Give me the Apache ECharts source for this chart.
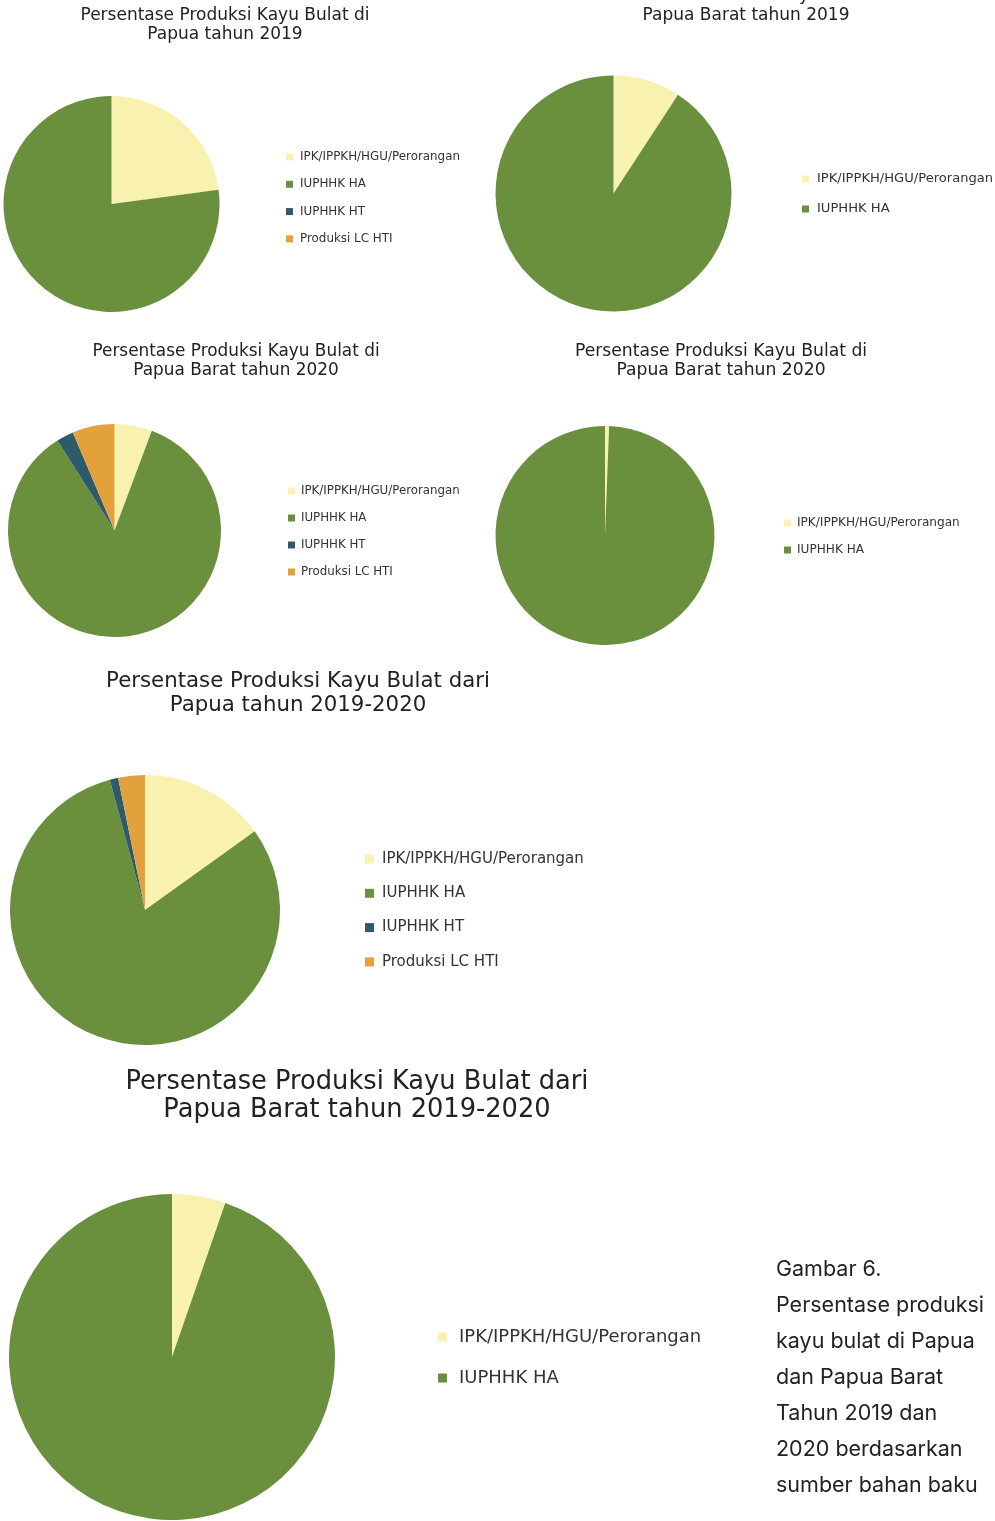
<!DOCTYPE html>
<html>
<head>
<meta charset="utf-8">
<script src="https://cdn.jsdelivr.net/npm/echarts@6/dist/echarts.min.js"></script>
<style>
  html, body { margin: 0; padding: 0; background: #ffffff; }
  #chart { width: 995px; height: 1521px; }
</style>
</head>
<body>
<div id="chart"></div>
<script>
// Sumber bahan baku (kategori) dan warnanya
const categories = ['IPK/IPPKH/HGU/Perorangan', 'IUPHHK HA', 'IUPHHK HT', 'Produksi LC HTI'];
const colors = ['#f9f1b0', '#6a8f3d', '#2e5a69', '#e3a13c'];

// Persentase produksi kayu bulat (%) per wilayah dan tahun
const papua2019 = [22.9, 77.1, 0, 0];
const papuaBarat2019 = [9.2, 90.8];
const papua2020 = [5.7, 85.3, 2.6, 6.4];
const papuaBarat2020 = [0.6, 99.4];
const papua2019_2020 = [15.1, 80.7, 1.0, 3.2];
const papuaBarat2019_2020 = [5.3, 94.7];

const titles = [
  'Persentase Produksi Kayu Bulat di\nPapua tahun 2019',
  'Persentase Produksi Kayu Bulat di\nPapua Barat tahun 2019',
  'Persentase Produksi Kayu Bulat di\nPapua Barat tahun 2020',
  'Persentase Produksi Kayu Bulat di\nPapua Barat tahun 2020',
  'Persentase Produksi Kayu Bulat dari\nPapua tahun 2019-2020',
  'Persentase Produksi Kayu Bulat dari\nPapua Barat tahun 2019-2020'
];
const caption = 'Gambar 6.\nPersentase produksi\nkayu bulat di Papua\ndan Papua Barat\nTahun 2019 dan\n2020 berdasarkan\nsumber bahan baku';

const FONT = '"DejaVu Sans", sans-serif';
const CAPTION_FONT = 'Inter, "Noto Sans", sans-serif';

// Layout of each panel: pie, title and legend placement
const panels = [
  { values: papua2019,           center: [111.5, 204],  r: 108,   title: { x: 225, top: 6,    size: 17, lh: 19 }, legend: { left: 286, top: 150,  size: 11.9, lh: 14, step: 27.3, icon: 7, gap: 2 } },
  { values: papuaBarat2019,      center: [613.5, 193.5], r: 118,  title: { x: 746, top: -14,  size: 17, lh: 19.5 }, legend: { left: 802, top: 172,  size: 13.1, lh: 14, step: 30, icon: 7, gap: 3 } },
  { values: papua2020,           center: [114.5, 530.5], r: 106.5, title: { x: 236, top: 342, size: 16.9, lh: 19 }, legend: { left: 288, top: 484,  size: 11.8, lh: 14, step: 27, icon: 7, gap: 1 } },
  { values: papuaBarat2020,      center: [605, 535.5],   r: 109.5, title: { x: 721, top: 342, size: 17.2, lh: 19 }, legend: { left: 784, top: 516,  size: 12.1, lh: 14, step: 27, icon: 7, gap: 1 } },
  { values: papua2019_2020,      center: [145, 910],     r: 135,  title: { x: 298, top: 669,  size: 21.3, lh: 24 }, legend: { left: 365, top: 850, size: 15, lh: 18, step: 34.3, icon: 9, gap: 3 } },
  { values: papuaBarat2019_2020, center: [172, 1357],    r: 163,  title: { x: 357, top: 1068, size: 25.7, lh: 28.5 }, legend: { left: 438, top: 1326, size: 18, lh: 22, step: 41, icon: 9, gap: 7 } }
];

const option = {
  backgroundColor: '#ffffff',
  animation: false,
  color: colors,
  title: panels.map((p, i) => ({
    text: titles[i],
    left: p.title.x,
    top: p.title.top,
    textAlign: 'center',
    padding: 0,
    textStyle: {
      fontFamily: FONT,
      fontWeight: 'normal',
      fontSize: p.title.size,
      lineHeight: p.title.lh,
      color: '#222222'
    }
  })).concat([{
    text: caption,
    left: 776,
    top: 1252,
    padding: 0,
    textStyle: {
      fontFamily: CAPTION_FONT,
      fontWeight: 'normal',
      fontSize: 21.5,
      lineHeight: 36,
      color: '#222222'
    }
  }]),
  legend: panels.map(p => ({
    orient: 'vertical',
    left: p.legend.left,
    top: p.legend.top,
    padding: 0,
    itemWidth: p.legend.icon,
    itemHeight: p.legend.icon,
    itemGap: p.legend.step - p.legend.lh,
    icon: 'rect',
    selectedMode: false,
    data: categories.slice(0, p.values.length),
    textStyle: {
      fontFamily: FONT,
      fontSize: p.legend.size,
      lineHeight: p.legend.lh,
      padding: [0, 0, 0, p.legend.gap],
      color: '#333333'
    }
  })),
  series: panels.map(p => ({
    type: 'pie',
    center: p.center,
    radius: p.r,
    startAngle: 90,
    clockwise: true,
    silent: true,
    label: { show: false },
    labelLine: { show: false },
    itemStyle: { borderWidth: 0 },
    data: p.values.map((v, k) => ({ name: categories[k], value: v }))
  }))
};

const chart = echarts.init(document.getElementById('chart'), null, { renderer: 'canvas' });
chart.setOption(option);
</script>
</body>
</html>
